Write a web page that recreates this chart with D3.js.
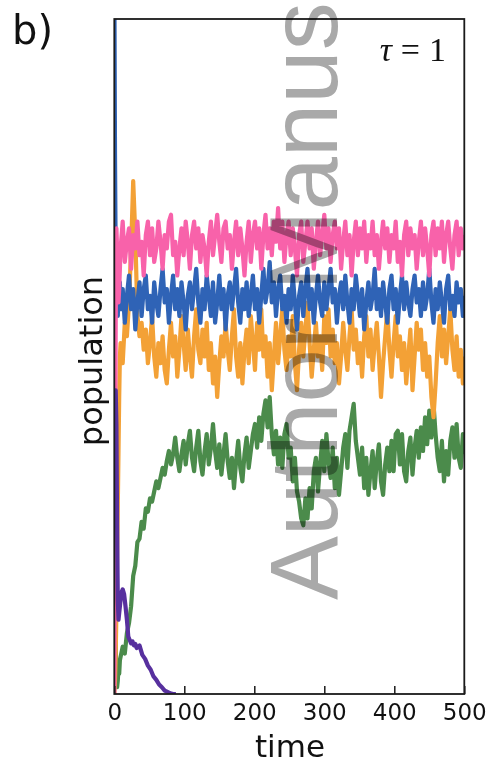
<!DOCTYPE html>
<html>
<head>
<meta charset="utf-8">
<script src="https://cdn.jsdelivr.net/npm/d3@7"></script>
<style>
  html, body { margin: 0; padding: 0; background: #fff; }
  svg { display: block; }
</style>
</head>
<body>
<svg id="chart" width="492" height="766"></svg>
<script>
// ---------- DATA ----------
const times = [0,1,2,3,4,5,6,7,8,
  9,12,15,18,21,24,27,30,33,36,
  39,42,45,48,51,54,57,60,63,66,
  69,72,75,78,81,84,87,90,93,96,
  99,102,105,108,111,114,117,120,123,126,
  129,132,135,138,141,144,147,150,153,156,
  159,162,165,168,171,174,177,180,183,186,
  189,192,195,198,201,204,207,210,213,216,
  219,222,225,228,231,234,237,240,243,246,
  249,252,255,258,261,264,267,270,273,276,
  279,282,285,288,291,294,297,300,303,306,
  309,312,315,318,321,324,327,330,333,336,
  339,342,345,348,351,354,357,360,363,366,
  369,372,375,378,381,384,387,390,393,396,
  399,402,405,408,411,414,417,420,423,426,
  429,432,435,438,441,444,447,450,453,456,
  459,462,465,468,471,474,477,480,483,486,
  489,492,495,498,500];

const pinkValues = [0.00,0.28,0.55,0.69,0.66,0.61,0.58,0.60,0.63,
  0.66,0.70,0.64,0.67,0.69,0.63,0.68,0.66,0.70,0.65,
  0.67,0.62,0.68,0.70,0.65,0.69,0.64,0.66,0.70,0.67,
  0.63,0.68,0.66,0.70,0.71,0.65,0.67,0.62,0.66,0.69,
  0.65,0.70,0.67,0.63,0.68,0.70,0.66,0.69,0.64,0.68,
  0.66,0.62,0.67,0.70,0.65,0.68,0.71,0.67,0.64,0.69,
  0.70,0.66,0.68,0.63,0.67,0.70,0.65,0.69,0.66,0.62,
  0.67,0.70,0.64,0.68,0.70,0.66,0.69,0.63,0.68,0.71,
  0.66,0.69,0.65,0.70,0.67,0.72,0.66,0.70,0.64,0.68,
  0.70,0.65,0.69,0.66,0.62,0.68,0.70,0.64,0.67,0.70,
  0.66,0.69,0.63,0.67,0.70,0.65,0.68,0.71,0.66,0.69,
  0.64,0.68,0.70,0.66,0.69,0.63,0.67,0.70,0.65,0.68,
  0.62,0.67,0.70,0.65,0.69,0.66,0.70,0.64,0.68,0.66,
  0.70,0.65,0.68,0.63,0.67,0.70,0.66,0.69,0.64,0.68,
  0.66,0.70,0.64,0.67,0.62,0.68,0.70,0.65,0.69,0.66,
  0.68,0.63,0.67,0.70,0.65,0.69,0.66,0.62,0.68,0.70,
  0.65,0.69,0.66,0.70,0.64,0.68,0.70,0.66,0.63,0.68,
  0.70,0.65,0.69,0.66,0.68];

const blueValues = [1.08,0.80,0.64,0.58,0.61,0.56,0.60,0.57,0.61,
  0.57,0.60,0.55,0.59,0.62,0.57,0.60,0.54,0.58,0.61,
  0.56,0.60,0.62,0.57,0.59,0.55,0.61,0.58,0.56,0.60,
  0.63,0.58,0.60,0.55,0.59,0.62,0.57,0.60,0.56,0.61,
  0.58,0.54,0.59,0.61,0.57,0.60,0.63,0.58,0.55,0.60,
  0.57,0.62,0.59,0.56,0.61,0.55,0.58,0.62,0.57,0.60,
  0.54,0.59,0.61,0.57,0.60,0.63,0.58,0.55,0.60,0.57,
  0.61,0.56,0.59,0.62,0.57,0.60,0.55,0.59,0.63,0.58,
  0.60,0.64,0.58,0.61,0.56,0.60,0.62,0.57,0.59,0.55,
  0.60,0.57,0.62,0.58,0.54,0.59,0.61,0.56,0.60,0.63,
  0.57,0.60,0.55,0.59,0.62,0.58,0.56,0.61,0.57,0.60,
  0.63,0.58,0.60,0.55,0.59,0.61,0.57,0.62,0.58,0.55,
  0.60,0.57,0.62,0.59,0.56,0.60,0.54,0.58,0.61,0.57,
  0.59,0.63,0.57,0.60,0.56,0.61,0.58,0.55,0.60,0.62,
  0.57,0.60,0.55,0.59,0.62,0.57,0.61,0.58,0.56,0.60,
  0.62,0.58,0.60,0.56,0.61,0.57,0.59,0.63,0.58,0.55,
  0.60,0.57,0.61,0.58,0.55,0.60,0.62,0.57,0.59,0.56,
  0.61,0.58,0.60,0.56,0.59];

const orangeValues = [0.00,0.02,0.06,0.12,0.20,0.28,0.36,0.44,0.50,
  0.52,0.49,0.55,0.53,0.58,0.66,0.76,0.68,0.56,0.53,
  0.55,0.51,0.54,0.49,0.52,0.56,0.50,0.47,0.52,0.49,
  0.53,0.48,0.46,0.51,0.55,0.50,0.53,0.47,0.51,0.56,
  0.52,0.48,0.54,0.50,0.47,0.53,0.57,0.51,0.49,0.54,
  0.50,0.55,0.48,0.52,0.46,0.50,0.44,0.49,0.53,0.50,
  0.55,0.51,0.48,0.53,0.57,0.50,0.47,0.52,0.46,0.51,
  0.54,0.49,0.56,0.52,0.48,0.55,0.51,0.57,0.50,0.53,
  0.47,0.52,0.45,0.50,0.55,0.49,0.53,0.57,0.51,0.48,
  0.53,0.50,0.56,0.49,0.45,0.51,0.55,0.50,0.54,0.58,
  0.52,0.47,0.51,0.55,0.50,0.53,0.48,0.56,0.52,0.57,
  0.50,0.54,0.49,0.52,0.46,0.50,0.55,0.51,0.48,0.53,
  0.57,0.51,0.54,0.49,0.52,0.47,0.53,0.56,0.50,0.54,
  0.48,0.52,0.55,0.50,0.44,0.49,0.53,0.57,0.51,0.47,
  0.52,0.56,0.50,0.53,0.48,0.52,0.46,0.50,0.54,0.45,
  0.50,0.55,0.51,0.54,0.48,0.52,0.47,0.50,0.44,0.41,
  0.46,0.52,0.56,0.50,0.54,0.49,0.53,0.57,0.51,0.48,
  0.53,0.47,0.51,0.46,0.50];

const greenValues = [0.01,0.06,0.075,0.02,0.01,0.02,0.04,0.03,0.05,
  0.055,0.07,0.06,0.09,0.105,0.13,0.175,0.19,0.225,0.23,
  0.255,0.245,0.275,0.27,0.29,0.285,0.30,0.315,0.305,0.32,
  0.335,0.325,0.345,0.36,0.34,0.355,0.38,0.35,0.33,0.355,
  0.375,0.34,0.37,0.39,0.35,0.33,0.365,0.39,0.345,0.325,
  0.36,0.385,0.34,0.365,0.40,0.36,0.335,0.37,0.325,0.355,
  0.385,0.345,0.32,0.35,0.305,0.345,0.375,0.335,0.315,0.355,
  0.38,0.335,0.36,0.385,0.40,0.365,0.41,0.375,0.415,0.435,
  0.395,0.44,0.385,0.355,0.39,0.34,0.38,0.335,0.385,0.40,
  0.35,0.365,0.315,0.35,0.30,0.285,0.26,0.25,0.29,0.26,
  0.305,0.275,0.33,0.35,0.30,0.34,0.375,0.33,0.385,0.345,
  0.32,0.365,0.305,0.35,0.295,0.33,0.365,0.385,0.335,0.39,
  0.41,0.43,0.375,0.35,0.325,0.365,0.305,0.35,0.295,0.33,
  0.36,0.305,0.345,0.37,0.315,0.295,0.34,0.365,0.33,0.375,
  0.33,0.385,0.39,0.34,0.385,0.33,0.315,0.36,0.38,0.325,
  0.365,0.39,0.35,0.395,0.36,0.41,0.37,0.42,0.38,0.43,
  0.385,0.35,0.33,0.375,0.315,0.36,0.325,0.375,0.395,0.35,
  0.40,0.35,0.335,0.385,0.355];

const purpleTimes = [0,1,2,3,4,5,6,7,8,10,12,14,16,18,20,22,24,26,28,30,32,36,40,44,48,52,56,60,64,68,72,76,80,84,88];
const purpleValues = [0.30,0.38,0.45,0.40,0.25,0.14,0.11,0.12,0.13,0.15,0.155,0.148,0.13,0.11,0.085,0.08,0.075,0.078,0.072,0.074,
  0.068,0.072,0.058,0.052,0.042,0.036,0.026,0.021,0.014,0.010,0.005,0.003,0.001,0.0,0.0];

const xTicks = [0,100,200,300,400,500];

// ---------- DRAW ----------
const svg = d3.select("#chart");
const x = d3.scaleLinear().domain([0, 500]).range([114.3, 464.3]);
const y = d3.scaleLinear().domain([0, 1]).range([694, 19]);

svg.append("defs").append("clipPath").attr("id", "plotclip")
  .append("rect").attr("x", 114.3).attr("y", 19).attr("width", 350).attr("height", 675);

const line = d3.line().x(d => x(d[0])).y(d => y(d[1]));
const plot = svg.append("g").attr("clip-path", "url(#plotclip)");

const series = [
  {t: times, v: greenValues, c: "#4b8b4b"},
  {t: times, v: orangeValues, c: "#f3a136"},
  {t: times, v: blueValues, c: "#2f63b6"},
  {t: times, v: pinkValues, c: "#f862aa"},
  {t: purpleTimes, v: purpleValues, c: "#57309e"}
];
series.forEach(s => {
  plot.append("path")
    .datum(s.t.map((t, i) => [t, s.v[i]]))
    .attr("fill", "none")
    .attr("stroke", s.c)
    .attr("stroke-width", 4.2)
    .attr("stroke-linejoin", "round")
    .attr("d", line);
});

// frame
svg.append("rect")
  .attr("x", 114.3).attr("y", 19).attr("width", 350).attr("height", 675)
  .attr("fill", "none").attr("stroke", "#1a1a1a").attr("stroke-width", 1.8);

// x axis
const xAxis = d3.axisBottom(x).tickValues(xTicks).tickSizeInner(-8).tickSizeOuter(0).tickPadding(10);
const gx = svg.append("g").attr("transform", "translate(0,694)").call(xAxis);
gx.select(".domain").remove();
gx.selectAll(".tick line").attr("stroke", "#1a1a1a").attr("stroke-width", 1.5);
gx.selectAll(".tick text")
  .attr("font-family", "DejaVu Sans").attr("font-size", 23).attr("fill", "#111");

// labels
svg.append("text").attr("x", 290).attr("y", 757)
  .attr("text-anchor", "middle").attr("font-family", "DejaVu Sans").attr("font-size", 31).attr("fill", "#111")
  .text("time");

svg.append("text").attr("transform", "translate(102,361) rotate(-90)")
  .attr("text-anchor", "middle").attr("font-family", "DejaVu Sans").attr("font-size", 32).attr("fill", "#111")
  .text("population");

svg.append("text").attr("x", 12).attr("y", 44)
  .attr("font-family", "DejaVu Sans").attr("font-size", 40).attr("fill", "#111")
  .text("b)");

const tau = svg.append("text").attr("x", 446).attr("y", 61)
  .attr("text-anchor", "end").attr("font-family", "Liberation Serif").attr("font-size", 34).attr("fill", "#111");
tau.append("tspan").attr("font-style", "italic").text("τ");
tau.append("tspan").attr("dx", 9).text("=");
tau.append("tspan").attr("dx", 9).text("1");

// watermark
svg.append("text").attr("transform", "translate(337,600) rotate(-90)")
  .attr("font-family", "Liberation Sans").attr("font-size", 96).attr("fill", "#a9a9a9")
  .style("mix-blend-mode", "multiply")
  .text("Author Manus");
</script>
</body>
</html>
